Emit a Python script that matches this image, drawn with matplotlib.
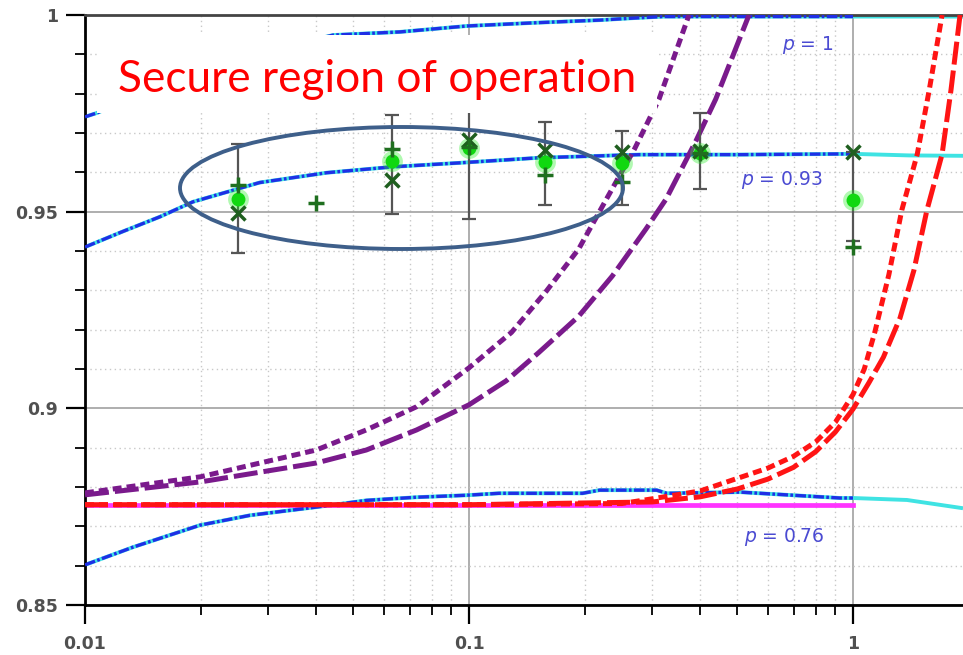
import numpy as np
import matplotlib
matplotlib.use("Agg")
import matplotlib.pyplot as plt
from matplotlib.patches import Rectangle, Ellipse

# ---------------- data ----------------
p1_x = [0.01, 0.01074, 0.015, 0.02, 0.03, 0.0443, 0.0661, 0.0986, 0.1467, 0.2188, 0.267, 0.32, 0.4, 0.6, 1.0, 1.4, 1.934]
p1_y = [0.9741, 0.9751, 0.981, 0.986, 0.991, 0.9949, 0.9957, 0.9972, 0.998, 0.9987, 0.9992, 0.9996, 0.9996, 0.9996, 0.9996, 0.9996, 0.9996]

p93_x = [0.01, 0.0125, 0.01567, 0.0191, 0.0285, 0.0426, 0.0633, 0.0942, 0.152, 0.277, 0.505, 1.0, 1.4, 1.934]
p93_y = [0.941, 0.9449, 0.9487, 0.9525, 0.9574, 0.9599, 0.9614, 0.9624, 0.9637, 0.9645, 0.9645, 0.9647, 0.9643, 0.9642]

p76_x = [0.01, 0.01333, 0.01994, 0.02688, 0.0401, 0.0541, 0.073, 0.0983, 0.1197, 0.1976, 0.2188, 0.3081, 0.3273, 0.5076, 0.925, 1.0, 1.382, 1.934]
p76_y = [0.8602, 0.8647, 0.8703, 0.8728, 0.8749, 0.8766, 0.8774, 0.8779, 0.8784, 0.8784, 0.8792, 0.8792, 0.8784, 0.8787, 0.8772, 0.8772, 0.8767, 0.8746]

magenta_x = [0.01, 1.0]
magenta_y = [0.8754, 0.8754]

red_short_x = [0.01, 0.1, 0.25, 0.3, 0.4, 0.5, 0.6, 0.7, 0.8, 0.9, 1.0, 1.07, 1.14, 1.24, 1.34, 1.47, 1.58, 1.706]
red_short_y = [0.8755, 0.8755, 0.8758, 0.877, 0.879, 0.8822, 0.8848, 0.8878, 0.8915, 0.8965, 0.9035, 0.910, 0.9194, 0.934, 0.9504, 0.9646, 0.981, 1.0]

red_long_x = [0.01, 0.1, 0.3, 0.4, 0.5, 0.6, 0.7, 0.8, 0.9, 1.0, 1.1, 1.2, 1.326, 1.44, 1.558, 1.706, 1.80, 1.90]
red_long_y = [0.8755, 0.8755, 0.8762, 0.8775, 0.8795, 0.882, 0.885, 0.889, 0.894, 0.8998, 0.9065, 0.913, 0.923, 0.935, 0.9504, 0.9646, 0.981, 1.0]

pur_short_x = [0.01, 0.02, 0.04, 0.054, 0.073, 0.1, 0.129, 0.159, 0.193, 0.228, 0.27, 0.3125, 0.374]
pur_short_y = [0.8785, 0.8826, 0.8894, 0.8945, 0.9004, 0.9103, 0.9193, 0.9298, 0.9405, 0.9532, 0.966, 0.9786, 1.0]

pur_long_x = [0.01, 0.02, 0.04, 0.054, 0.073, 0.1, 0.125, 0.152, 0.193, 0.236, 0.289, 0.326, 0.39, 0.439, 0.536]
pur_long_y = [0.878, 0.8813, 0.8861, 0.8894, 0.8945, 0.9009, 0.907, 0.9142, 0.9234, 0.9336, 0.9456, 0.9532, 0.968, 0.9786, 1.0]

circ_x = [0.025, 0.063, 0.1, 0.158, 0.25, 0.4, 1.0]
circ_y = [0.9532, 0.9628, 0.9662, 0.9627, 0.9624, 0.9650, 0.9530]
cross_x = [0.025, 0.063, 0.1, 0.158, 0.25, 0.4, 1.0]
cross_y = [0.9497, 0.9581, 0.9683, 0.9657, 0.9652, 0.9655, 0.9652]
plus_x = [0.025, 0.04, 0.063, 0.1, 0.158, 0.25, 0.4, 1.0]
plus_y = [0.9569, 0.9523, 0.9660, 0.9665, 0.9594, 0.9576, 0.9648, 0.9411]

err_x = [0.025, 0.063, 0.1, 0.158, 0.25, 0.4, 1.0]
err_lo = [0.9394, 0.9495, 0.9482, 0.9518, 0.9518, 0.9557, 0.9425]
err_hi = [0.9672, 0.9746, 0.985, 0.9729, 0.9706, 0.9750, 0.9652]

y_ticks = [0.85, 0.9, 0.95, 1.0]
y_ticklabels = ["0.85", "0.9", "0.95", "1"]
x_ticks = [0.01, 0.1, 1.0]
x_ticklabels = ["0.01", "0.1", "1"]

title_text = "Secure region of operation"
labels = [("$p$ = 1", 0.764, 0.9924), ("$p$ = 0.93", 0.653, 0.9581), ("$p$ = 0.76", 0.661, 0.8673)]

# ---------------- figure ----------------
W, H = 963, 655
fig = plt.figure(figsize=(W / 100, H / 100), dpi=100)
ax = fig.add_axes([85 / W, 50 / H, 878 / W, 590 / H])
ax.set_xscale("log")
ax.set_xlim(0.01, 1.934)
ax.set_ylim(0.85, 1.0)

ax.set_yticks(y_ticks)
ax.set_yticklabels(y_ticklabels)
ax.set_yticks(np.arange(0.86, 0.995, 0.01), minor=True)
ax.set_xticks(x_ticks)
ax.set_xticklabels(x_ticklabels)
ax.set_xticks([m * d for d in (0.01, 0.1) for m in range(2, 10)], minor=True)
ax.xaxis.set_minor_formatter(matplotlib.ticker.NullFormatter())

ax.tick_params(which="major", length=13.5, width=1.6, color="black", direction="out",
               labelsize=12.5, labelcolor="#505050")
ax.tick_params(axis="y", which="major", pad=6)
ax.tick_params(axis="x", which="major", pad=8)
ax.tick_params(which="minor", length=7.5, width=1.3, color="black", direction="out")
for lab in ax.get_xticklabels() + ax.get_yticklabels():
    lab.set_fontweight("bold")

ax.set_axisbelow(True)
ax.grid(which="major", color="#a8a8a8", lw=1.3, ls="-")
ax.grid(which="minor", color="#c8c8c8", lw=1.0, ls=(0, (1, 2.5)))

for s in ("left", "bottom"):
    ax.spines[s].set_linewidth(2.0)
    ax.spines[s].set_color("black")
ax.spines["top"].set_linewidth(2.0)
ax.spines["top"].set_color("#444444")
ax.spines["right"].set_visible(False)

blue = "#1f2fe6"
cyan = "#3fe3e3"
purple = "#7a1a8c"
red = "#ff1414"

# blue curves with cyan underlay
for xs, ys in ((p1_x, p1_y), (p93_x, p93_y), (p76_x, p76_y)):
    ax.plot(xs, ys, color=cyan, lw=2.8, solid_capstyle="butt", zorder=2)
    xb = [x for x in xs if x <= 1.0]
    yb = ys[:len(xb)]
    ax.plot(xb, yb, color=blue, lw=2.4, dashes=(3.2, 0.7, 0.8, 0.7), zorder=3)

ax.plot(magenta_x, magenta_y, color="#ff33ff", lw=3.4, zorder=2.5)

ax.plot(red_short_x, red_short_y, color=red, lw=3.6, dashes=(1.8, 1.0), zorder=3.2)
ax.plot(red_long_x, red_long_y, color=red, lw=3.6, dashes=(4.6, 1.2), zorder=3.1)
ax.plot(pur_short_x, pur_short_y, color=purple, lw=3.6, dashes=(1.8, 1.0), zorder=3.2)
ax.plot(pur_long_x, pur_long_y, color=purple, lw=3.6, dashes=(4.8, 1.2), zorder=3.1)

# error bars and markers
mid = [(a + b) / 2 for a, b in zip(err_lo, err_hi)]
half = [(b - a) / 2 for a, b in zip(err_lo, err_hi)]
ax.errorbar(err_x, mid, yerr=half, fmt="none", ecolor="#555555", elinewidth=1.6,
            capsize=5, capthick=1.6, zorder=4)
ax.plot(circ_x, circ_y, "o", color="#22ee22", ms=15, alpha=0.35, mec="none", zorder=4.1)
ax.plot(circ_x, circ_y, "o", color="#10d810", ms=10, mec="none", zorder=4.2)
ax.plot(cross_x, cross_y, "x", color="#1f5f1f", ms=9.5, mew=2.5, zorder=4.3)
ax.plot(plus_x, plus_y, "+", color="#1f6f1f", ms=11, mew=2.5, zorder=4.3)

# p labels
for txt, lx, ly in labels:
    ax.text(lx, ly, txt, color="#4b4bd2", fontsize=13.5, ha="center", va="center", zorder=4.5)

# white box with title text
ax.add_patch(Rectangle((12 / 878, (605 - 113) / 590), 560 / 878, 78 / 590,
                       transform=ax.transAxes, facecolor="white", edgecolor="none",
                       zorder=5, clip_on=False))
t = fig.text(118 / W, 1 - 92 / H, title_text, color="#ff0000", fontsize=32,
             family=["Lato", "DejaVu Sans"], ha="left", va="baseline", zorder=6)
fig.canvas.draw()
bb = t.get_window_extent()
t.set_fontsize(32 * 519 / bb.width)

# ellipse
ax.add_patch(Ellipse(((401.5 - 85) / 878, (605 - 188) / 590), 443 / 878, 122 / 590,
                     transform=ax.transAxes, fill=False, edgecolor="#3e5f8a", lw=2.8,
                     zorder=7))

fig.savefig("out.png", dpi=100)
